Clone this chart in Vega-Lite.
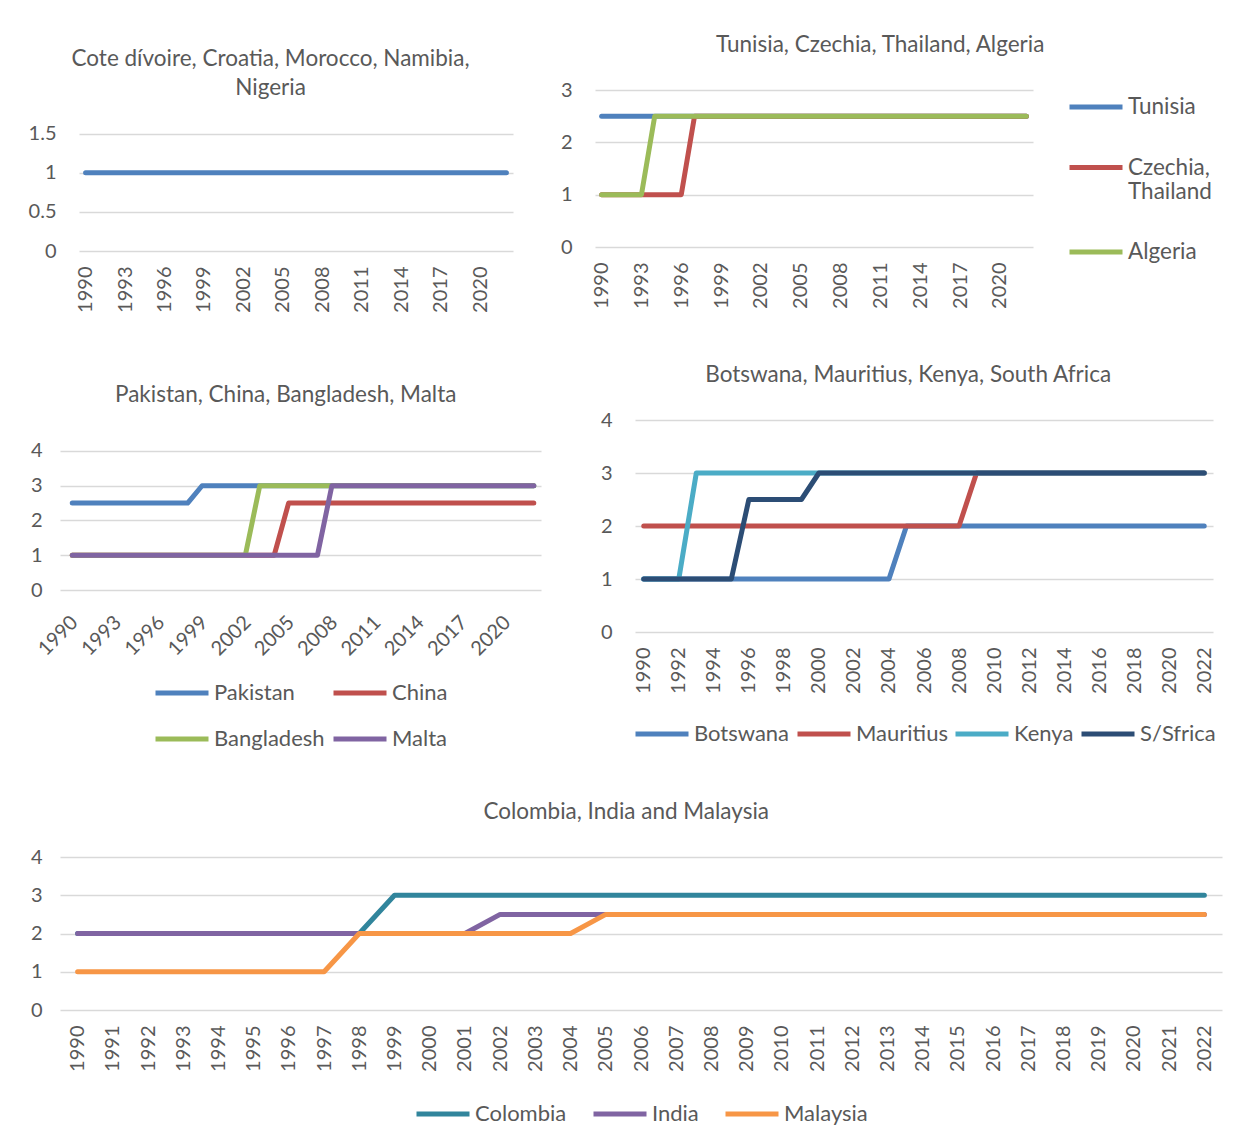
{
  "$schema": "https://vega.github.io/schema/vega-lite/v6.json",
  "background": "white",
  "padding": {"left": 28, "top": 33, "right": 10, "bottom": 10},
  "config": {
    "font": "Lato",
    "view": {"stroke": null},
    "axis": {"domain": false, "ticks": false, "gridColor": "#D9D9D9", "gridWidth": 1.5, "labelFont": "Lato", "labelFontSize": 20, "labelColor": "#595959", "labelOverlap": false, "labelFlush": false},
    "axisX": {"grid": false, "labelAngle": -90, "labelPadding": 15},
    "axisY": {"grid": true, "labelPadding": 18},
    "title": {"font": "Lato", "fontSize": 22.5, "fontWeight": "normal", "color": "#595959", "anchor": "middle", "frame": "bounds", "lineHeight": 29},
    "legend": {"title": null, "symbolType": "stroke", "symbolStrokeWidth": 5, "symbolSize": 2809, "labelFont": "Lato", "labelFontSize": 22, "labelColor": "#595959", "labelOffset": 3, "layout": {"bottom": {"anchor": "middle"}}},
    "line": {"strokeWidth": 5, "strokeCap": "round", "strokeJoin": "round"}
  },
  "datasets": {
    "p1": [
      {"series": "Cote dívoire, Croatia, Morocco, Namibia, Nigeria", "year": 1990, "value": 1},
      {"series": "Cote dívoire, Croatia, Morocco, Namibia, Nigeria", "year": 1991, "value": 1},
      {"series": "Cote dívoire, Croatia, Morocco, Namibia, Nigeria", "year": 1992, "value": 1},
      {"series": "Cote dívoire, Croatia, Morocco, Namibia, Nigeria", "year": 1993, "value": 1},
      {"series": "Cote dívoire, Croatia, Morocco, Namibia, Nigeria", "year": 1994, "value": 1},
      {"series": "Cote dívoire, Croatia, Morocco, Namibia, Nigeria", "year": 1995, "value": 1},
      {"series": "Cote dívoire, Croatia, Morocco, Namibia, Nigeria", "year": 1996, "value": 1},
      {"series": "Cote dívoire, Croatia, Morocco, Namibia, Nigeria", "year": 1997, "value": 1},
      {"series": "Cote dívoire, Croatia, Morocco, Namibia, Nigeria", "year": 1998, "value": 1},
      {"series": "Cote dívoire, Croatia, Morocco, Namibia, Nigeria", "year": 1999, "value": 1},
      {"series": "Cote dívoire, Croatia, Morocco, Namibia, Nigeria", "year": 2000, "value": 1},
      {"series": "Cote dívoire, Croatia, Morocco, Namibia, Nigeria", "year": 2001, "value": 1},
      {"series": "Cote dívoire, Croatia, Morocco, Namibia, Nigeria", "year": 2002, "value": 1},
      {"series": "Cote dívoire, Croatia, Morocco, Namibia, Nigeria", "year": 2003, "value": 1},
      {"series": "Cote dívoire, Croatia, Morocco, Namibia, Nigeria", "year": 2004, "value": 1},
      {"series": "Cote dívoire, Croatia, Morocco, Namibia, Nigeria", "year": 2005, "value": 1},
      {"series": "Cote dívoire, Croatia, Morocco, Namibia, Nigeria", "year": 2006, "value": 1},
      {"series": "Cote dívoire, Croatia, Morocco, Namibia, Nigeria", "year": 2007, "value": 1},
      {"series": "Cote dívoire, Croatia, Morocco, Namibia, Nigeria", "year": 2008, "value": 1},
      {"series": "Cote dívoire, Croatia, Morocco, Namibia, Nigeria", "year": 2009, "value": 1},
      {"series": "Cote dívoire, Croatia, Morocco, Namibia, Nigeria", "year": 2010, "value": 1},
      {"series": "Cote dívoire, Croatia, Morocco, Namibia, Nigeria", "year": 2011, "value": 1},
      {"series": "Cote dívoire, Croatia, Morocco, Namibia, Nigeria", "year": 2012, "value": 1},
      {"series": "Cote dívoire, Croatia, Morocco, Namibia, Nigeria", "year": 2013, "value": 1},
      {"series": "Cote dívoire, Croatia, Morocco, Namibia, Nigeria", "year": 2014, "value": 1},
      {"series": "Cote dívoire, Croatia, Morocco, Namibia, Nigeria", "year": 2015, "value": 1},
      {"series": "Cote dívoire, Croatia, Morocco, Namibia, Nigeria", "year": 2016, "value": 1},
      {"series": "Cote dívoire, Croatia, Morocco, Namibia, Nigeria", "year": 2017, "value": 1},
      {"series": "Cote dívoire, Croatia, Morocco, Namibia, Nigeria", "year": 2018, "value": 1},
      {"series": "Cote dívoire, Croatia, Morocco, Namibia, Nigeria", "year": 2019, "value": 1},
      {"series": "Cote dívoire, Croatia, Morocco, Namibia, Nigeria", "year": 2020, "value": 1},
      {"series": "Cote dívoire, Croatia, Morocco, Namibia, Nigeria", "year": 2021, "value": 1},
      {"series": "Cote dívoire, Croatia, Morocco, Namibia, Nigeria", "year": 2022, "value": 1}
    ],
    "p2": [
      {"series": "Tunisia", "year": 1990, "value": 2.5},
      {"series": "Tunisia", "year": 1991, "value": 2.5},
      {"series": "Tunisia", "year": 1992, "value": 2.5},
      {"series": "Tunisia", "year": 1993, "value": 2.5},
      {"series": "Tunisia", "year": 1994, "value": 2.5},
      {"series": "Tunisia", "year": 1995, "value": 2.5},
      {"series": "Tunisia", "year": 1996, "value": 2.5},
      {"series": "Tunisia", "year": 1997, "value": 2.5},
      {"series": "Tunisia", "year": 1998, "value": 2.5},
      {"series": "Tunisia", "year": 1999, "value": 2.5},
      {"series": "Tunisia", "year": 2000, "value": 2.5},
      {"series": "Tunisia", "year": 2001, "value": 2.5},
      {"series": "Tunisia", "year": 2002, "value": 2.5},
      {"series": "Tunisia", "year": 2003, "value": 2.5},
      {"series": "Tunisia", "year": 2004, "value": 2.5},
      {"series": "Tunisia", "year": 2005, "value": 2.5},
      {"series": "Tunisia", "year": 2006, "value": 2.5},
      {"series": "Tunisia", "year": 2007, "value": 2.5},
      {"series": "Tunisia", "year": 2008, "value": 2.5},
      {"series": "Tunisia", "year": 2009, "value": 2.5},
      {"series": "Tunisia", "year": 2010, "value": 2.5},
      {"series": "Tunisia", "year": 2011, "value": 2.5},
      {"series": "Tunisia", "year": 2012, "value": 2.5},
      {"series": "Tunisia", "year": 2013, "value": 2.5},
      {"series": "Tunisia", "year": 2014, "value": 2.5},
      {"series": "Tunisia", "year": 2015, "value": 2.5},
      {"series": "Tunisia", "year": 2016, "value": 2.5},
      {"series": "Tunisia", "year": 2017, "value": 2.5},
      {"series": "Tunisia", "year": 2018, "value": 2.5},
      {"series": "Tunisia", "year": 2019, "value": 2.5},
      {"series": "Tunisia", "year": 2020, "value": 2.5},
      {"series": "Tunisia", "year": 2021, "value": 2.5},
      {"series": "Tunisia", "year": 2022, "value": 2.5},
      {"series": "Czechia, Thailand", "year": 1990, "value": 1},
      {"series": "Czechia, Thailand", "year": 1991, "value": 1},
      {"series": "Czechia, Thailand", "year": 1992, "value": 1},
      {"series": "Czechia, Thailand", "year": 1993, "value": 1},
      {"series": "Czechia, Thailand", "year": 1994, "value": 1},
      {"series": "Czechia, Thailand", "year": 1995, "value": 1},
      {"series": "Czechia, Thailand", "year": 1996, "value": 1},
      {"series": "Czechia, Thailand", "year": 1997, "value": 2.5},
      {"series": "Czechia, Thailand", "year": 1998, "value": 2.5},
      {"series": "Czechia, Thailand", "year": 1999, "value": 2.5},
      {"series": "Czechia, Thailand", "year": 2000, "value": 2.5},
      {"series": "Czechia, Thailand", "year": 2001, "value": 2.5},
      {"series": "Czechia, Thailand", "year": 2002, "value": 2.5},
      {"series": "Czechia, Thailand", "year": 2003, "value": 2.5},
      {"series": "Czechia, Thailand", "year": 2004, "value": 2.5},
      {"series": "Czechia, Thailand", "year": 2005, "value": 2.5},
      {"series": "Czechia, Thailand", "year": 2006, "value": 2.5},
      {"series": "Czechia, Thailand", "year": 2007, "value": 2.5},
      {"series": "Czechia, Thailand", "year": 2008, "value": 2.5},
      {"series": "Czechia, Thailand", "year": 2009, "value": 2.5},
      {"series": "Czechia, Thailand", "year": 2010, "value": 2.5},
      {"series": "Czechia, Thailand", "year": 2011, "value": 2.5},
      {"series": "Czechia, Thailand", "year": 2012, "value": 2.5},
      {"series": "Czechia, Thailand", "year": 2013, "value": 2.5},
      {"series": "Czechia, Thailand", "year": 2014, "value": 2.5},
      {"series": "Czechia, Thailand", "year": 2015, "value": 2.5},
      {"series": "Czechia, Thailand", "year": 2016, "value": 2.5},
      {"series": "Czechia, Thailand", "year": 2017, "value": 2.5},
      {"series": "Czechia, Thailand", "year": 2018, "value": 2.5},
      {"series": "Czechia, Thailand", "year": 2019, "value": 2.5},
      {"series": "Czechia, Thailand", "year": 2020, "value": 2.5},
      {"series": "Czechia, Thailand", "year": 2021, "value": 2.5},
      {"series": "Czechia, Thailand", "year": 2022, "value": 2.5},
      {"series": "Algeria", "year": 1990, "value": 1},
      {"series": "Algeria", "year": 1991, "value": 1},
      {"series": "Algeria", "year": 1992, "value": 1},
      {"series": "Algeria", "year": 1993, "value": 1},
      {"series": "Algeria", "year": 1994, "value": 2.5},
      {"series": "Algeria", "year": 1995, "value": 2.5},
      {"series": "Algeria", "year": 1996, "value": 2.5},
      {"series": "Algeria", "year": 1997, "value": 2.5},
      {"series": "Algeria", "year": 1998, "value": 2.5},
      {"series": "Algeria", "year": 1999, "value": 2.5},
      {"series": "Algeria", "year": 2000, "value": 2.5},
      {"series": "Algeria", "year": 2001, "value": 2.5},
      {"series": "Algeria", "year": 2002, "value": 2.5},
      {"series": "Algeria", "year": 2003, "value": 2.5},
      {"series": "Algeria", "year": 2004, "value": 2.5},
      {"series": "Algeria", "year": 2005, "value": 2.5},
      {"series": "Algeria", "year": 2006, "value": 2.5},
      {"series": "Algeria", "year": 2007, "value": 2.5},
      {"series": "Algeria", "year": 2008, "value": 2.5},
      {"series": "Algeria", "year": 2009, "value": 2.5},
      {"series": "Algeria", "year": 2010, "value": 2.5},
      {"series": "Algeria", "year": 2011, "value": 2.5},
      {"series": "Algeria", "year": 2012, "value": 2.5},
      {"series": "Algeria", "year": 2013, "value": 2.5},
      {"series": "Algeria", "year": 2014, "value": 2.5},
      {"series": "Algeria", "year": 2015, "value": 2.5},
      {"series": "Algeria", "year": 2016, "value": 2.5},
      {"series": "Algeria", "year": 2017, "value": 2.5},
      {"series": "Algeria", "year": 2018, "value": 2.5},
      {"series": "Algeria", "year": 2019, "value": 2.5},
      {"series": "Algeria", "year": 2020, "value": 2.5},
      {"series": "Algeria", "year": 2021, "value": 2.5},
      {"series": "Algeria", "year": 2022, "value": 2.5}
    ],
    "p3": [
      {"series": "Pakistan", "year": 1990, "value": 2.5},
      {"series": "Pakistan", "year": 1991, "value": 2.5},
      {"series": "Pakistan", "year": 1992, "value": 2.5},
      {"series": "Pakistan", "year": 1993, "value": 2.5},
      {"series": "Pakistan", "year": 1994, "value": 2.5},
      {"series": "Pakistan", "year": 1995, "value": 2.5},
      {"series": "Pakistan", "year": 1996, "value": 2.5},
      {"series": "Pakistan", "year": 1997, "value": 2.5},
      {"series": "Pakistan", "year": 1998, "value": 2.5},
      {"series": "Pakistan", "year": 1999, "value": 3},
      {"series": "Pakistan", "year": 2000, "value": 3},
      {"series": "Pakistan", "year": 2001, "value": 3},
      {"series": "Pakistan", "year": 2002, "value": 3},
      {"series": "Pakistan", "year": 2003, "value": 3},
      {"series": "Pakistan", "year": 2004, "value": 3},
      {"series": "Pakistan", "year": 2005, "value": 3},
      {"series": "Pakistan", "year": 2006, "value": 3},
      {"series": "Pakistan", "year": 2007, "value": 3},
      {"series": "Pakistan", "year": 2008, "value": 3},
      {"series": "Pakistan", "year": 2009, "value": 3},
      {"series": "Pakistan", "year": 2010, "value": 3},
      {"series": "Pakistan", "year": 2011, "value": 3},
      {"series": "Pakistan", "year": 2012, "value": 3},
      {"series": "Pakistan", "year": 2013, "value": 3},
      {"series": "Pakistan", "year": 2014, "value": 3},
      {"series": "Pakistan", "year": 2015, "value": 3},
      {"series": "Pakistan", "year": 2016, "value": 3},
      {"series": "Pakistan", "year": 2017, "value": 3},
      {"series": "Pakistan", "year": 2018, "value": 3},
      {"series": "Pakistan", "year": 2019, "value": 3},
      {"series": "Pakistan", "year": 2020, "value": 3},
      {"series": "Pakistan", "year": 2021, "value": 3},
      {"series": "Pakistan", "year": 2022, "value": 3},
      {"series": "China", "year": 1990, "value": 1},
      {"series": "China", "year": 1991, "value": 1},
      {"series": "China", "year": 1992, "value": 1},
      {"series": "China", "year": 1993, "value": 1},
      {"series": "China", "year": 1994, "value": 1},
      {"series": "China", "year": 1995, "value": 1},
      {"series": "China", "year": 1996, "value": 1},
      {"series": "China", "year": 1997, "value": 1},
      {"series": "China", "year": 1998, "value": 1},
      {"series": "China", "year": 1999, "value": 1},
      {"series": "China", "year": 2000, "value": 1},
      {"series": "China", "year": 2001, "value": 1},
      {"series": "China", "year": 2002, "value": 1},
      {"series": "China", "year": 2003, "value": 1},
      {"series": "China", "year": 2004, "value": 1},
      {"series": "China", "year": 2005, "value": 2.5},
      {"series": "China", "year": 2006, "value": 2.5},
      {"series": "China", "year": 2007, "value": 2.5},
      {"series": "China", "year": 2008, "value": 2.5},
      {"series": "China", "year": 2009, "value": 2.5},
      {"series": "China", "year": 2010, "value": 2.5},
      {"series": "China", "year": 2011, "value": 2.5},
      {"series": "China", "year": 2012, "value": 2.5},
      {"series": "China", "year": 2013, "value": 2.5},
      {"series": "China", "year": 2014, "value": 2.5},
      {"series": "China", "year": 2015, "value": 2.5},
      {"series": "China", "year": 2016, "value": 2.5},
      {"series": "China", "year": 2017, "value": 2.5},
      {"series": "China", "year": 2018, "value": 2.5},
      {"series": "China", "year": 2019, "value": 2.5},
      {"series": "China", "year": 2020, "value": 2.5},
      {"series": "China", "year": 2021, "value": 2.5},
      {"series": "China", "year": 2022, "value": 2.5},
      {"series": "Bangladesh", "year": 1990, "value": 1},
      {"series": "Bangladesh", "year": 1991, "value": 1},
      {"series": "Bangladesh", "year": 1992, "value": 1},
      {"series": "Bangladesh", "year": 1993, "value": 1},
      {"series": "Bangladesh", "year": 1994, "value": 1},
      {"series": "Bangladesh", "year": 1995, "value": 1},
      {"series": "Bangladesh", "year": 1996, "value": 1},
      {"series": "Bangladesh", "year": 1997, "value": 1},
      {"series": "Bangladesh", "year": 1998, "value": 1},
      {"series": "Bangladesh", "year": 1999, "value": 1},
      {"series": "Bangladesh", "year": 2000, "value": 1},
      {"series": "Bangladesh", "year": 2001, "value": 1},
      {"series": "Bangladesh", "year": 2002, "value": 1},
      {"series": "Bangladesh", "year": 2003, "value": 3},
      {"series": "Bangladesh", "year": 2004, "value": 3},
      {"series": "Bangladesh", "year": 2005, "value": 3},
      {"series": "Bangladesh", "year": 2006, "value": 3},
      {"series": "Bangladesh", "year": 2007, "value": 3},
      {"series": "Bangladesh", "year": 2008, "value": 3},
      {"series": "Bangladesh", "year": 2009, "value": 3},
      {"series": "Bangladesh", "year": 2010, "value": 3},
      {"series": "Bangladesh", "year": 2011, "value": 3},
      {"series": "Bangladesh", "year": 2012, "value": 3},
      {"series": "Bangladesh", "year": 2013, "value": 3},
      {"series": "Bangladesh", "year": 2014, "value": 3},
      {"series": "Bangladesh", "year": 2015, "value": 3},
      {"series": "Bangladesh", "year": 2016, "value": 3},
      {"series": "Bangladesh", "year": 2017, "value": 3},
      {"series": "Bangladesh", "year": 2018, "value": 3},
      {"series": "Bangladesh", "year": 2019, "value": 3},
      {"series": "Bangladesh", "year": 2020, "value": 3},
      {"series": "Bangladesh", "year": 2021, "value": 3},
      {"series": "Bangladesh", "year": 2022, "value": 3},
      {"series": "Malta", "year": 1990, "value": 1},
      {"series": "Malta", "year": 1991, "value": 1},
      {"series": "Malta", "year": 1992, "value": 1},
      {"series": "Malta", "year": 1993, "value": 1},
      {"series": "Malta", "year": 1994, "value": 1},
      {"series": "Malta", "year": 1995, "value": 1},
      {"series": "Malta", "year": 1996, "value": 1},
      {"series": "Malta", "year": 1997, "value": 1},
      {"series": "Malta", "year": 1998, "value": 1},
      {"series": "Malta", "year": 1999, "value": 1},
      {"series": "Malta", "year": 2000, "value": 1},
      {"series": "Malta", "year": 2001, "value": 1},
      {"series": "Malta", "year": 2002, "value": 1},
      {"series": "Malta", "year": 2003, "value": 1},
      {"series": "Malta", "year": 2004, "value": 1},
      {"series": "Malta", "year": 2005, "value": 1},
      {"series": "Malta", "year": 2006, "value": 1},
      {"series": "Malta", "year": 2007, "value": 1},
      {"series": "Malta", "year": 2008, "value": 3},
      {"series": "Malta", "year": 2009, "value": 3},
      {"series": "Malta", "year": 2010, "value": 3},
      {"series": "Malta", "year": 2011, "value": 3},
      {"series": "Malta", "year": 2012, "value": 3},
      {"series": "Malta", "year": 2013, "value": 3},
      {"series": "Malta", "year": 2014, "value": 3},
      {"series": "Malta", "year": 2015, "value": 3},
      {"series": "Malta", "year": 2016, "value": 3},
      {"series": "Malta", "year": 2017, "value": 3},
      {"series": "Malta", "year": 2018, "value": 3},
      {"series": "Malta", "year": 2019, "value": 3},
      {"series": "Malta", "year": 2020, "value": 3},
      {"series": "Malta", "year": 2021, "value": 3},
      {"series": "Malta", "year": 2022, "value": 3}
    ],
    "p4": [
      {"series": "Botswana", "year": 1990, "value": 1},
      {"series": "Botswana", "year": 1991, "value": 1},
      {"series": "Botswana", "year": 1992, "value": 1},
      {"series": "Botswana", "year": 1993, "value": 1},
      {"series": "Botswana", "year": 1994, "value": 1},
      {"series": "Botswana", "year": 1995, "value": 1},
      {"series": "Botswana", "year": 1996, "value": 1},
      {"series": "Botswana", "year": 1997, "value": 1},
      {"series": "Botswana", "year": 1998, "value": 1},
      {"series": "Botswana", "year": 1999, "value": 1},
      {"series": "Botswana", "year": 2000, "value": 1},
      {"series": "Botswana", "year": 2001, "value": 1},
      {"series": "Botswana", "year": 2002, "value": 1},
      {"series": "Botswana", "year": 2003, "value": 1},
      {"series": "Botswana", "year": 2004, "value": 1},
      {"series": "Botswana", "year": 2005, "value": 2},
      {"series": "Botswana", "year": 2006, "value": 2},
      {"series": "Botswana", "year": 2007, "value": 2},
      {"series": "Botswana", "year": 2008, "value": 2},
      {"series": "Botswana", "year": 2009, "value": 2},
      {"series": "Botswana", "year": 2010, "value": 2},
      {"series": "Botswana", "year": 2011, "value": 2},
      {"series": "Botswana", "year": 2012, "value": 2},
      {"series": "Botswana", "year": 2013, "value": 2},
      {"series": "Botswana", "year": 2014, "value": 2},
      {"series": "Botswana", "year": 2015, "value": 2},
      {"series": "Botswana", "year": 2016, "value": 2},
      {"series": "Botswana", "year": 2017, "value": 2},
      {"series": "Botswana", "year": 2018, "value": 2},
      {"series": "Botswana", "year": 2019, "value": 2},
      {"series": "Botswana", "year": 2020, "value": 2},
      {"series": "Botswana", "year": 2021, "value": 2},
      {"series": "Botswana", "year": 2022, "value": 2},
      {"series": "Mauritius", "year": 1990, "value": 2},
      {"series": "Mauritius", "year": 1991, "value": 2},
      {"series": "Mauritius", "year": 1992, "value": 2},
      {"series": "Mauritius", "year": 1993, "value": 2},
      {"series": "Mauritius", "year": 1994, "value": 2},
      {"series": "Mauritius", "year": 1995, "value": 2},
      {"series": "Mauritius", "year": 1996, "value": 2},
      {"series": "Mauritius", "year": 1997, "value": 2},
      {"series": "Mauritius", "year": 1998, "value": 2},
      {"series": "Mauritius", "year": 1999, "value": 2},
      {"series": "Mauritius", "year": 2000, "value": 2},
      {"series": "Mauritius", "year": 2001, "value": 2},
      {"series": "Mauritius", "year": 2002, "value": 2},
      {"series": "Mauritius", "year": 2003, "value": 2},
      {"series": "Mauritius", "year": 2004, "value": 2},
      {"series": "Mauritius", "year": 2005, "value": 2},
      {"series": "Mauritius", "year": 2006, "value": 2},
      {"series": "Mauritius", "year": 2007, "value": 2},
      {"series": "Mauritius", "year": 2008, "value": 2},
      {"series": "Mauritius", "year": 2009, "value": 3},
      {"series": "Mauritius", "year": 2010, "value": 3},
      {"series": "Mauritius", "year": 2011, "value": 3},
      {"series": "Mauritius", "year": 2012, "value": 3},
      {"series": "Mauritius", "year": 2013, "value": 3},
      {"series": "Mauritius", "year": 2014, "value": 3},
      {"series": "Mauritius", "year": 2015, "value": 3},
      {"series": "Mauritius", "year": 2016, "value": 3},
      {"series": "Mauritius", "year": 2017, "value": 3},
      {"series": "Mauritius", "year": 2018, "value": 3},
      {"series": "Mauritius", "year": 2019, "value": 3},
      {"series": "Mauritius", "year": 2020, "value": 3},
      {"series": "Mauritius", "year": 2021, "value": 3},
      {"series": "Mauritius", "year": 2022, "value": 3},
      {"series": "Kenya", "year": 1990, "value": 1},
      {"series": "Kenya", "year": 1991, "value": 1},
      {"series": "Kenya", "year": 1992, "value": 1},
      {"series": "Kenya", "year": 1993, "value": 3},
      {"series": "Kenya", "year": 1994, "value": 3},
      {"series": "Kenya", "year": 1995, "value": 3},
      {"series": "Kenya", "year": 1996, "value": 3},
      {"series": "Kenya", "year": 1997, "value": 3},
      {"series": "Kenya", "year": 1998, "value": 3},
      {"series": "Kenya", "year": 1999, "value": 3},
      {"series": "Kenya", "year": 2000, "value": 3},
      {"series": "Kenya", "year": 2001, "value": 3},
      {"series": "Kenya", "year": 2002, "value": 3},
      {"series": "Kenya", "year": 2003, "value": 3},
      {"series": "Kenya", "year": 2004, "value": 3},
      {"series": "Kenya", "year": 2005, "value": 3},
      {"series": "Kenya", "year": 2006, "value": 3},
      {"series": "Kenya", "year": 2007, "value": 3},
      {"series": "Kenya", "year": 2008, "value": 3},
      {"series": "Kenya", "year": 2009, "value": 3},
      {"series": "Kenya", "year": 2010, "value": 3},
      {"series": "Kenya", "year": 2011, "value": 3},
      {"series": "Kenya", "year": 2012, "value": 3},
      {"series": "Kenya", "year": 2013, "value": 3},
      {"series": "Kenya", "year": 2014, "value": 3},
      {"series": "Kenya", "year": 2015, "value": 3},
      {"series": "Kenya", "year": 2016, "value": 3},
      {"series": "Kenya", "year": 2017, "value": 3},
      {"series": "Kenya", "year": 2018, "value": 3},
      {"series": "Kenya", "year": 2019, "value": 3},
      {"series": "Kenya", "year": 2020, "value": 3},
      {"series": "Kenya", "year": 2021, "value": 3},
      {"series": "Kenya", "year": 2022, "value": 3},
      {"series": "S/Sfrica", "year": 1990, "value": 1},
      {"series": "S/Sfrica", "year": 1991, "value": 1},
      {"series": "S/Sfrica", "year": 1992, "value": 1},
      {"series": "S/Sfrica", "year": 1993, "value": 1},
      {"series": "S/Sfrica", "year": 1994, "value": 1},
      {"series": "S/Sfrica", "year": 1995, "value": 1},
      {"series": "S/Sfrica", "year": 1996, "value": 2.5},
      {"series": "S/Sfrica", "year": 1997, "value": 2.5},
      {"series": "S/Sfrica", "year": 1998, "value": 2.5},
      {"series": "S/Sfrica", "year": 1999, "value": 2.5},
      {"series": "S/Sfrica", "year": 2000, "value": 3},
      {"series": "S/Sfrica", "year": 2001, "value": 3},
      {"series": "S/Sfrica", "year": 2002, "value": 3},
      {"series": "S/Sfrica", "year": 2003, "value": 3},
      {"series": "S/Sfrica", "year": 2004, "value": 3},
      {"series": "S/Sfrica", "year": 2005, "value": 3},
      {"series": "S/Sfrica", "year": 2006, "value": 3},
      {"series": "S/Sfrica", "year": 2007, "value": 3},
      {"series": "S/Sfrica", "year": 2008, "value": 3},
      {"series": "S/Sfrica", "year": 2009, "value": 3},
      {"series": "S/Sfrica", "year": 2010, "value": 3},
      {"series": "S/Sfrica", "year": 2011, "value": 3},
      {"series": "S/Sfrica", "year": 2012, "value": 3},
      {"series": "S/Sfrica", "year": 2013, "value": 3},
      {"series": "S/Sfrica", "year": 2014, "value": 3},
      {"series": "S/Sfrica", "year": 2015, "value": 3},
      {"series": "S/Sfrica", "year": 2016, "value": 3},
      {"series": "S/Sfrica", "year": 2017, "value": 3},
      {"series": "S/Sfrica", "year": 2018, "value": 3},
      {"series": "S/Sfrica", "year": 2019, "value": 3},
      {"series": "S/Sfrica", "year": 2020, "value": 3},
      {"series": "S/Sfrica", "year": 2021, "value": 3},
      {"series": "S/Sfrica", "year": 2022, "value": 3}
    ],
    "p5": [
      {"series": "Colombia", "year": 1990, "value": 2},
      {"series": "Colombia", "year": 1991, "value": 2},
      {"series": "Colombia", "year": 1992, "value": 2},
      {"series": "Colombia", "year": 1993, "value": 2},
      {"series": "Colombia", "year": 1994, "value": 2},
      {"series": "Colombia", "year": 1995, "value": 2},
      {"series": "Colombia", "year": 1996, "value": 2},
      {"series": "Colombia", "year": 1997, "value": 2},
      {"series": "Colombia", "year": 1998, "value": 2},
      {"series": "Colombia", "year": 1999, "value": 3},
      {"series": "Colombia", "year": 2000, "value": 3},
      {"series": "Colombia", "year": 2001, "value": 3},
      {"series": "Colombia", "year": 2002, "value": 3},
      {"series": "Colombia", "year": 2003, "value": 3},
      {"series": "Colombia", "year": 2004, "value": 3},
      {"series": "Colombia", "year": 2005, "value": 3},
      {"series": "Colombia", "year": 2006, "value": 3},
      {"series": "Colombia", "year": 2007, "value": 3},
      {"series": "Colombia", "year": 2008, "value": 3},
      {"series": "Colombia", "year": 2009, "value": 3},
      {"series": "Colombia", "year": 2010, "value": 3},
      {"series": "Colombia", "year": 2011, "value": 3},
      {"series": "Colombia", "year": 2012, "value": 3},
      {"series": "Colombia", "year": 2013, "value": 3},
      {"series": "Colombia", "year": 2014, "value": 3},
      {"series": "Colombia", "year": 2015, "value": 3},
      {"series": "Colombia", "year": 2016, "value": 3},
      {"series": "Colombia", "year": 2017, "value": 3},
      {"series": "Colombia", "year": 2018, "value": 3},
      {"series": "Colombia", "year": 2019, "value": 3},
      {"series": "Colombia", "year": 2020, "value": 3},
      {"series": "Colombia", "year": 2021, "value": 3},
      {"series": "Colombia", "year": 2022, "value": 3},
      {"series": "India", "year": 1990, "value": 2},
      {"series": "India", "year": 1991, "value": 2},
      {"series": "India", "year": 1992, "value": 2},
      {"series": "India", "year": 1993, "value": 2},
      {"series": "India", "year": 1994, "value": 2},
      {"series": "India", "year": 1995, "value": 2},
      {"series": "India", "year": 1996, "value": 2},
      {"series": "India", "year": 1997, "value": 2},
      {"series": "India", "year": 1998, "value": 2},
      {"series": "India", "year": 1999, "value": 2},
      {"series": "India", "year": 2000, "value": 2},
      {"series": "India", "year": 2001, "value": 2},
      {"series": "India", "year": 2002, "value": 2.5},
      {"series": "India", "year": 2003, "value": 2.5},
      {"series": "India", "year": 2004, "value": 2.5},
      {"series": "India", "year": 2005, "value": 2.5},
      {"series": "India", "year": 2006, "value": 2.5},
      {"series": "India", "year": 2007, "value": 2.5},
      {"series": "India", "year": 2008, "value": 2.5},
      {"series": "India", "year": 2009, "value": 2.5},
      {"series": "India", "year": 2010, "value": 2.5},
      {"series": "India", "year": 2011, "value": 2.5},
      {"series": "India", "year": 2012, "value": 2.5},
      {"series": "India", "year": 2013, "value": 2.5},
      {"series": "India", "year": 2014, "value": 2.5},
      {"series": "India", "year": 2015, "value": 2.5},
      {"series": "India", "year": 2016, "value": 2.5},
      {"series": "India", "year": 2017, "value": 2.5},
      {"series": "India", "year": 2018, "value": 2.5},
      {"series": "India", "year": 2019, "value": 2.5},
      {"series": "India", "year": 2020, "value": 2.5},
      {"series": "India", "year": 2021, "value": 2.5},
      {"series": "India", "year": 2022, "value": 2.5},
      {"series": "Malaysia", "year": 1990, "value": 1},
      {"series": "Malaysia", "year": 1991, "value": 1},
      {"series": "Malaysia", "year": 1992, "value": 1},
      {"series": "Malaysia", "year": 1993, "value": 1},
      {"series": "Malaysia", "year": 1994, "value": 1},
      {"series": "Malaysia", "year": 1995, "value": 1},
      {"series": "Malaysia", "year": 1996, "value": 1},
      {"series": "Malaysia", "year": 1997, "value": 1},
      {"series": "Malaysia", "year": 1998, "value": 2},
      {"series": "Malaysia", "year": 1999, "value": 2},
      {"series": "Malaysia", "year": 2000, "value": 2},
      {"series": "Malaysia", "year": 2001, "value": 2},
      {"series": "Malaysia", "year": 2002, "value": 2},
      {"series": "Malaysia", "year": 2003, "value": 2},
      {"series": "Malaysia", "year": 2004, "value": 2},
      {"series": "Malaysia", "year": 2005, "value": 2.5},
      {"series": "Malaysia", "year": 2006, "value": 2.5},
      {"series": "Malaysia", "year": 2007, "value": 2.5},
      {"series": "Malaysia", "year": 2008, "value": 2.5},
      {"series": "Malaysia", "year": 2009, "value": 2.5},
      {"series": "Malaysia", "year": 2010, "value": 2.5},
      {"series": "Malaysia", "year": 2011, "value": 2.5},
      {"series": "Malaysia", "year": 2012, "value": 2.5},
      {"series": "Malaysia", "year": 2013, "value": 2.5},
      {"series": "Malaysia", "year": 2014, "value": 2.5},
      {"series": "Malaysia", "year": 2015, "value": 2.5},
      {"series": "Malaysia", "year": 2016, "value": 2.5},
      {"series": "Malaysia", "year": 2017, "value": 2.5},
      {"series": "Malaysia", "year": 2018, "value": 2.5},
      {"series": "Malaysia", "year": 2019, "value": 2.5},
      {"series": "Malaysia", "year": 2020, "value": 2.5},
      {"series": "Malaysia", "year": 2021, "value": 2.5},
      {"series": "Malaysia", "year": 2022, "value": 2.5}
    ]
  },
  "columns": 1,
  "align": "none",
  "spacing": 50,
  "resolve": {"scale": {"color": "independent"}, "legend": {"color": "independent"}},
  "concat": [
    {
      "hconcat": [
        {
          "width": 19,
          "height": 161,
          "data": {"values": []},
          "mark": {"type": "point"}
        },
        {
          "hconcat": [
            {
              "width": 434,
              "height": 161,
              "title": {"text": ["Cote dívoire, Croatia, Morocco, Namibia,", "Nigeria"], "offset": -9},
              "data": {"name": "p1"},
              "mark": {"type": "line", "strokeWidth": 5},
              "encoding": {
                "x": {"field": "year", "type": "quantitative", "scale": {"domain": [1989.5, 2022.5], "nice": false, "zero": false}, "axis": {"title": null, "format": "d", "values": [1990, 1993, 1996, 1999, 2002, 2005, 2008, 2011, 2014, 2017, 2020]}},
                "y": {"field": "value", "type": "quantitative", "scale": {"domain": [0, 2.06], "nice": false}, "axis": {"title": null, "format": "~g", "labelPadding": 23, "values": [0, 0.5, 1, 1.5]}},
                "color": {"field": "series", "type": "nominal", "scale": {"range": ["#4F81BD"]}, "legend": null}
              }
            },
            {
              "width": 438,
              "height": 157,
              "title": {"text": "Tunisia, Czechia, Thailand, Algeria", "offset": 24},
              "data": {"name": "p2"},
              "mark": {"type": "line", "strokeWidth": 5},
              "encoding": {
                "x": {"field": "year", "type": "quantitative", "scale": {"domain": [1989.5, 2022.5], "nice": false, "zero": false}, "axis": {"title": null, "format": "d", "values": [1990, 1993, 1996, 1999, 2002, 2005, 2008, 2011, 2014, 2017, 2020]}},
                "y": {"field": "value", "type": "quantitative", "scale": {"domain": [0, 3], "nice": false}, "axis": {"title": null, "format": "~g", "labelPadding": 23, "values": [0, 1, 2, 3]}},
                "color": {
                  "field": "series", "type": "nominal",
                  "scale": {"domain": ["Tunisia", "Czechia, Thailand", "Algeria"], "range": ["#4F81BD", "#C0504D", "#9BBB59"]},
                  "legend": {
                    "orient": "right", "offset": 46, "padding": -12, "rowPadding": 19.5, "labelFontSize": 22.5,
                    "labelExpr": "datum.label == 'Czechia, Thailand' ? ['Czechia,', 'Thailand'] : datum.label",
                    "encode": {
                      "labels": {"lineHeight": {"value": 28}},
                      "symbols": {"strokeCap": {"value": "round"}}
                    }
                  }
                }
              }
            }
          ],
          "spacing": 82,
          "bounds": "flush",
          "resolve": {"scale": {"color": "independent"}, "legend": {"color": "independent"}}
        }
      ],
      "spacing": 0,
      "bounds": "flush",
      "resolve": {"scale": {"color": "independent"}, "legend": {"color": "independent"}}
    },
    {
      "hconcat": [
        {
          "width": 481,
          "height": 170,
          "title": {"text": "Pakistan, China, Bangladesh, Malta", "offset": 14},
          "data": {"name": "p3"},
          "mark": {"type": "line", "strokeWidth": 5},
          "encoding": {
            "x": {"field": "year", "type": "quantitative", "scale": {"domain": [1989.15, 2022.5], "nice": false, "zero": false}, "axis": {"title": null, "format": "d", "labelAngle": -45, "labelAlign": "right", "labelBaseline": "top", "labelPadding": 22, "labelOffset": -5, "values": [1990, 1993, 1996, 1999, 2002, 2005, 2008, 2011, 2014, 2017, 2020]}},
            "y": {"field": "value", "type": "quantitative", "scale": {"domain": [0, 4.892], "nice": false}, "axis": {"title": null, "format": "~g", "values": [0, 1, 2, 3, 4]}},
            "color": {
              "field": "series", "type": "nominal",
              "scale": {"domain": ["Pakistan", "China", "Bangladesh", "Malta"], "range": ["#4F81BD", "#C0504D", "#9BBB59", "#8064A2"]},
              "legend": {
                "orient": "bottom", "direction": "horizontal", "columns": 2, "gridAlign": "all", "clipHeight": 22, "rowPadding": 24, "columnPadding": 6, "offset": 23,
                "encode": {"symbols": {"strokeCap": {"value": "round"}}}
              }
            }
          }
        },
        {
          "width": 578,
          "height": 212,
          "title": {"text": "Botswana, Mauritius, Kenya, South Africa", "offset": 24},
          "data": {"name": "p4"},
          "mark": {"type": "line", "strokeWidth": 5},
          "encoding": {
            "x": {"field": "year", "type": "quantitative", "scale": {"domain": [1989.5, 2022.5], "nice": false, "zero": false}, "axis": {"title": null, "format": "d", "values": [1990, 1992, 1994, 1996, 1998, 2000, 2002, 2004, 2006, 2008, 2010, 2012, 2014, 2016, 2018, 2020, 2022]}},
            "y": {"field": "value", "type": "quantitative", "scale": {"domain": [0, 4], "nice": false}, "axis": {"title": null, "format": "~g", "labelPadding": 23, "values": [0, 1, 2, 3, 4]}},
            "color": {
              "field": "series", "type": "nominal",
              "scale": {"domain": ["Botswana", "Mauritius", "Kenya", "S/Sfrica"], "range": ["#4F81BD", "#C0504D", "#4BACC6", "#2C4D75"]},
              "legend": {
                "orient": "bottom", "direction": "horizontal", "clipHeight": 22, "columnPadding": 5, "offset": 29,
                "encode": {"symbols": {"strokeCap": {"value": "round"}}}
              }
            }
          }
        }
      ],
      "spacing": 94,
      "bounds": "flush",
      "resolve": {"scale": {"color": "independent"}, "legend": {"color": "independent"}}
    },
    {
      "width": 1162,
      "height": 153,
      "title": {"text": "Colombia, India and Malaysia", "offset": 24},
      "data": {"name": "p5"},
      "mark": {"type": "line", "strokeWidth": 5},
      "encoding": {
        "x": {"field": "year", "type": "quantitative", "scale": {"domain": [1989.5, 2022.5], "nice": false, "zero": false}, "axis": {"title": null, "format": "d", "values": [1990, 1991, 1992, 1993, 1994, 1995, 1996, 1997, 1998, 1999, 2000, 2001, 2002, 2003, 2004, 2005, 2006, 2007, 2008, 2009, 2010, 2011, 2012, 2013, 2014, 2015, 2016, 2017, 2018, 2019, 2020, 2021, 2022]}},
        "y": {"field": "value", "type": "quantitative", "scale": {"domain": [0, 4], "nice": false}, "axis": {"title": null, "format": "~g", "values": [0, 1, 2, 3, 4]}},
        "color": {
          "field": "series", "type": "nominal",
          "scale": {"domain": ["Colombia", "India", "Malaysia"], "range": ["#31859C", "#8064A2", "#F79646"]},
          "legend": {
            "orient": "bottom", "direction": "horizontal", "clipHeight": 22, "columnPadding": 24, "offset": 31,
            "encode": {"symbols": {"strokeCap": {"value": "round"}}}
          }
        }
      }
    }
  ]
}
